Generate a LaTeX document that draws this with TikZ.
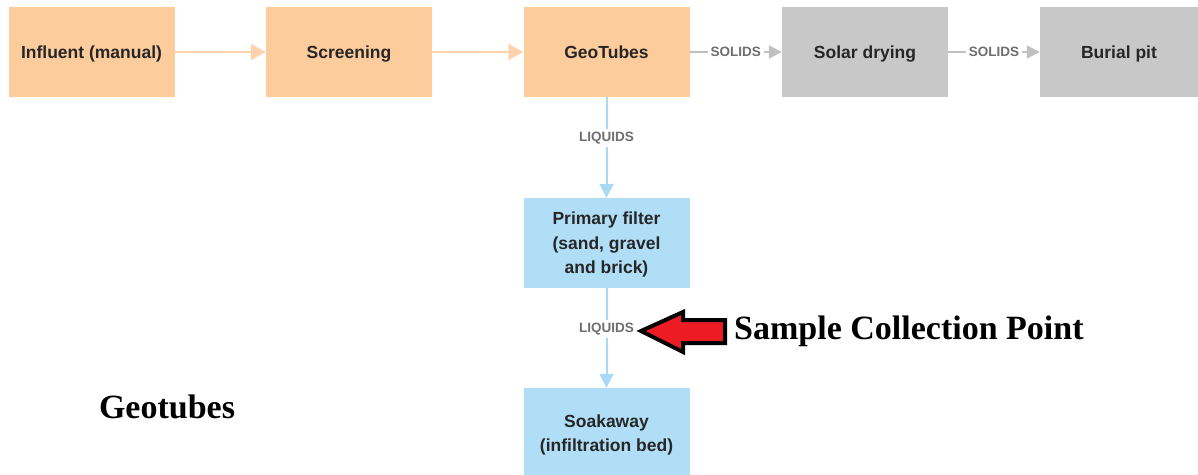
\documentclass[tikz,border=0pt]{standalone}
\usepackage{fontspec}
\setmainfont{Liberation Sans}
\newfontfamily\timesfont{Liberation Serif}
\usetikzlibrary{arrows.meta}
\definecolor{peach}{HTML}{FDCC9C}
\definecolor{sky}{HTML}{B0DEF7}
\definecolor{grbox}{HTML}{C8C8C8}
\definecolor{peachline}{HTML}{FDD3AD}
\definecolor{skyline}{HTML}{A9DAF5}
\definecolor{grline}{HTML}{C0C0C0}
\definecolor{lbl}{HTML}{6E6E6E}
\definecolor{redarrow}{HTML}{ED1C24}
\tikzset{
  box/.style={minimum width=166pt, minimum height=90pt, inner sep=0pt, align=center,
    text depth=0pt,
    font=\fontsize{17.5}{24.5}\selectfont\bfseries, text=black!85},
  obox/.style={box, fill=peach},
  bbox/.style={box, fill=sky},
  gbox/.style={box, fill=grbox},
  oarrow/.style={draw=peachline, line width=2pt, -{Triangle[length=15pt,width=16pt]}},
  barrow/.style={draw=skyline, line width=2pt, -{Triangle[length=14pt,width=14pt]}},
  garrow/.style={draw=grline, line width=2pt, -{Triangle[length=13pt,width=13pt]}},
  elabel/.style={fill=white, inner sep=3pt, text=lbl, font=\fontsize{13.5}{15}\selectfont\bfseries},
  bigtext/.style={font=\timesfont\fontsize{34}{38}\selectfont\bfseries, text=black, inner sep=0pt}
}
\begin{document}
\begin{tikzpicture}[x=1pt,y=-1pt]
\useasboundingbox (0,0) rectangle (1198,474);
\node[obox] (inf) at (91.5,52) {Influent (manual)};
\node[obox] (scr) at (349,52) {Screening};
\node[obox] (geo) at (606.5,52) {GeoTubes};
\node[gbox] (sol) at (865,52) {Solar drying};
\node[gbox, minimum width=158pt] (bur) at (1119,52) {Burial pit};
\node[bbox] (pri) at (606.5,243) {Primary filter\\(sand, gravel\\and brick)};
\node[bbox] (soa) at (606.5,433) {Soakaway\\(infiltration bed)};

\draw[oarrow] (inf) -- (scr);
\draw[oarrow] (scr) -- (geo);
\draw[garrow] (geo) -- node[elabel] (s1) {SOLIDS} (sol);
\draw[garrow] (sol) -- node[elabel] (s2) {SOLIDS} (bur);
\draw[barrow] (geo) -- node[elabel, pos=0.41] (l1) {LIQUIDS} (pri);
\draw[barrow] (pri) -- node[elabel, pos=0.41] (l2) {LIQUIDS} (soa);

\coordinate (tip) at (641,331);
\draw[line width=4pt, fill=redarrow, line join=miter]
  (tip) -- (683,312) -- (683,320) -- (725,320) -- (725,343) -- (683,343) -- (683,352) -- cycle;
\node[bigtext, anchor=west] (scp) at (734,331) {Sample Collection Point};
\node[bigtext] (gt) at (167,407) {Geotubes};
\end{tikzpicture}
\end{document}
